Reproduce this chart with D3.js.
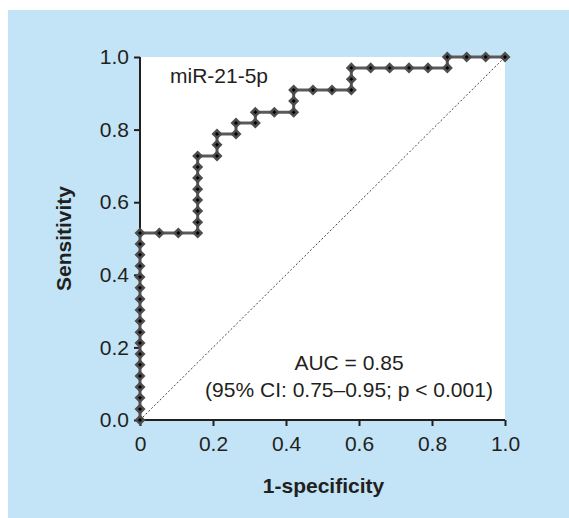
<!DOCTYPE html>
<html>
<head>
<meta charset="utf-8">
<script src="https://cdn.jsdelivr.net/npm/d3@7"></script>
<style>
  body { margin: 0; background: #fff; }
  text { font-family: "Liberation Sans", Arial, Helvetica, sans-serif; fill: #231f20; }
</style>
</head>
<body>
<div id="roc"></div>
<script>
// ROC points (1-specificity, sensitivity)
var fpr = [0, 0, 0, 0, 0, 0, 0, 0, 0, 0, 0, 0, 0, 0, 0, 0, 0, 0,
    0.053, 0.105,
    0.158, 0.158, 0.158, 0.158, 0.158, 0.158, 0.158, 0.158,
    0.211, 0.211, 0.211,
    0.263, 0.263,
    0.316, 0.316,
    0.368,
    0.421, 0.421, 0.421,
    0.474, 0.526,
    0.579, 0.579, 0.579,
    0.632, 0.684, 0.737, 0.789,
    0.842, 0.842,
    0.895, 0.947, 1.000];
var tpr = [0.000, 0.030, 0.061, 0.091, 0.121, 0.152, 0.182, 0.212, 0.242, 0.273, 0.303, 0.333, 0.364, 0.394, 0.424, 0.455, 0.485, 0.515,
    0.515, 0.515,
    0.515, 0.545, 0.576, 0.606, 0.636, 0.667, 0.697, 0.727,
    0.727, 0.758, 0.788,
    0.788, 0.818,
    0.818, 0.848,
    0.848,
    0.848, 0.879, 0.909,
    0.909, 0.909,
    0.909, 0.939, 0.970,
    0.970, 0.970, 0.970, 0.970,
    0.970, 1.000,
    1.000, 1.000, 1.000];

var xTicks = [0, 0.2, 0.4, 0.6, 0.8, 1.0];
var xTickLabels = ["0", "0.2", "0.4", "0.6", "0.8", "1.0"];
var yTicks = [0, 0.2, 0.4, 0.6, 0.8, 1.0];
var yTickLabels = ["0.0", "0.2", "0.4", "0.6", "0.8", "1.0"];

var panelTitle = "miR-21-5p";
var aucLines = ["AUC = 0.85", "(95% CI: 0.75\u20130.95; p < 0.001)"];

function drawRoc(){

    var W = 569, H = 518;
    var margin = { left:140, right:64, top:57, bottom:98 };
    var width = W - margin.left - margin.right,
        height = H - margin.top - margin.bottom;

    var root = d3.select("#roc")
        .append("svg")
            .attr("width", W)
            .attr("height", H);

    // light blue panel
    root.append("rect")
        .attr("x", 8)
        .attr("y", 10)
        .attr("width", W - 8)
        .attr("height", H - 10)
        .attr("fill", "#c2e4f6");

    var svg = root.append("g")
        .attr("transform", "translate(" + margin.left + "," + margin.top + ")");

    svg.append("rect")
        .attr("width", width)
        .attr("height", height)
        .attr("fill", "#fff");

    var x = d3.scaleLinear().domain([0, 1]).range([0, width]);
    var y = d3.scaleLinear().domain([0, 1]).range([height, 0]);

    // reference diagonal
    svg.append("line")
        .attr("x1", x(0)).attr("y1", y(0))
        .attr("x2", x(1)).attr("y2", y(1))
        .attr("stroke", "#444")
        .attr("stroke-width", 1)
        .attr("stroke-dasharray", "2,2");

    var xAxis = svg.append("g")
        .attr("transform", "translate(0," + height + ")")
        .call(d3.axisBottom(x).tickValues(xTicks).tickSize(6).tickPadding(10)
            .tickFormat(function(d, i){ return xTickLabels[i]; }));

    var yAxis = svg.append("g")
        .call(d3.axisLeft(y).tickValues(yTicks).tickSize(6).tickPadding(5)
            .tickFormat(function(d, i){ return yTickLabels[i]; }));

    [xAxis, yAxis].forEach(function(a){
        a.select(".domain").attr("stroke", "#231f20").attr("stroke-width", 2);
        a.selectAll(".tick line").attr("stroke", "#231f20").attr("stroke-width", 2);
        a.selectAll(".tick text")
            .attr("font-size", "21px")
            .attr("font-family", "Liberation Sans, Arial, sans-serif")
            .attr("fill", "#231f20");
    });
    xAxis.select(".domain").attr("d", "M0,0H" + width);
    yAxis.select(".domain").attr("d", "M0," + height + "V0");

    // ROC curve
    var pts = fpr.map(function(d, i){ return [d, tpr[i]]; });
    var line = d3.line()
        .x(function(d){ return x(d[0]); })
        .y(function(d){ return y(d[1]); });

    svg.append("path")
        .datum(pts)
        .attr("d", line)
        .attr("fill", "none")
        .attr("stroke", "#5a5a5a")
        .attr("stroke-width", 3);

    var marks = svg.append("g")
        .selectAll("g")
        .data(pts)
        .enter()
        .append("g")
            .attr("transform", function(d){ return "translate(" + x(d[0]) + "," + y(d[1]) + ") rotate(45)"; });

    marks.append("rect")
        .attr("x", -3.9).attr("y", -3.9)
        .attr("width", 7.8).attr("height", 7.8)
        .attr("fill", "#4d4d4d");
    marks.append("rect")
        .attr("x", -1.4).attr("y", -1.4)
        .attr("width", 2.8).attr("height", 2.8)
        .attr("fill", "#000");

    // labels
    svg.append("text")
        .attr("x", 30)
        .attr("y", 26)
        .attr("font-size", "21px")
        .text(panelTitle);

    svg.selectAll(".auc")
        .data(aucLines)
        .enter()
        .append("text")
            .attr("class", "auc")
            .attr("x", 209)
            .attr("y", function(d, i){ return 313 + i * 27; })
            .attr("text-anchor", "middle")
            .attr("font-size", "21px")
            .text(function(d){ return d; });

    svg.append("text")
        .attr("x", width / 2 + 1)
        .attr("y", height + 73)
        .attr("text-anchor", "middle")
        .attr("font-size", "21px")
        .attr("font-weight", "bold")
        .text("1-specificity");

    svg.append("text")
        .attr("transform", "rotate(-90)")
        .attr("x", -(height / 2))
        .attr("y", -69)
        .attr("text-anchor", "middle")
        .attr("font-size", "21px")
        .attr("font-weight", "bold")
        .text("Sensitivity");
}

drawRoc();
</script>
</body>
</html>
